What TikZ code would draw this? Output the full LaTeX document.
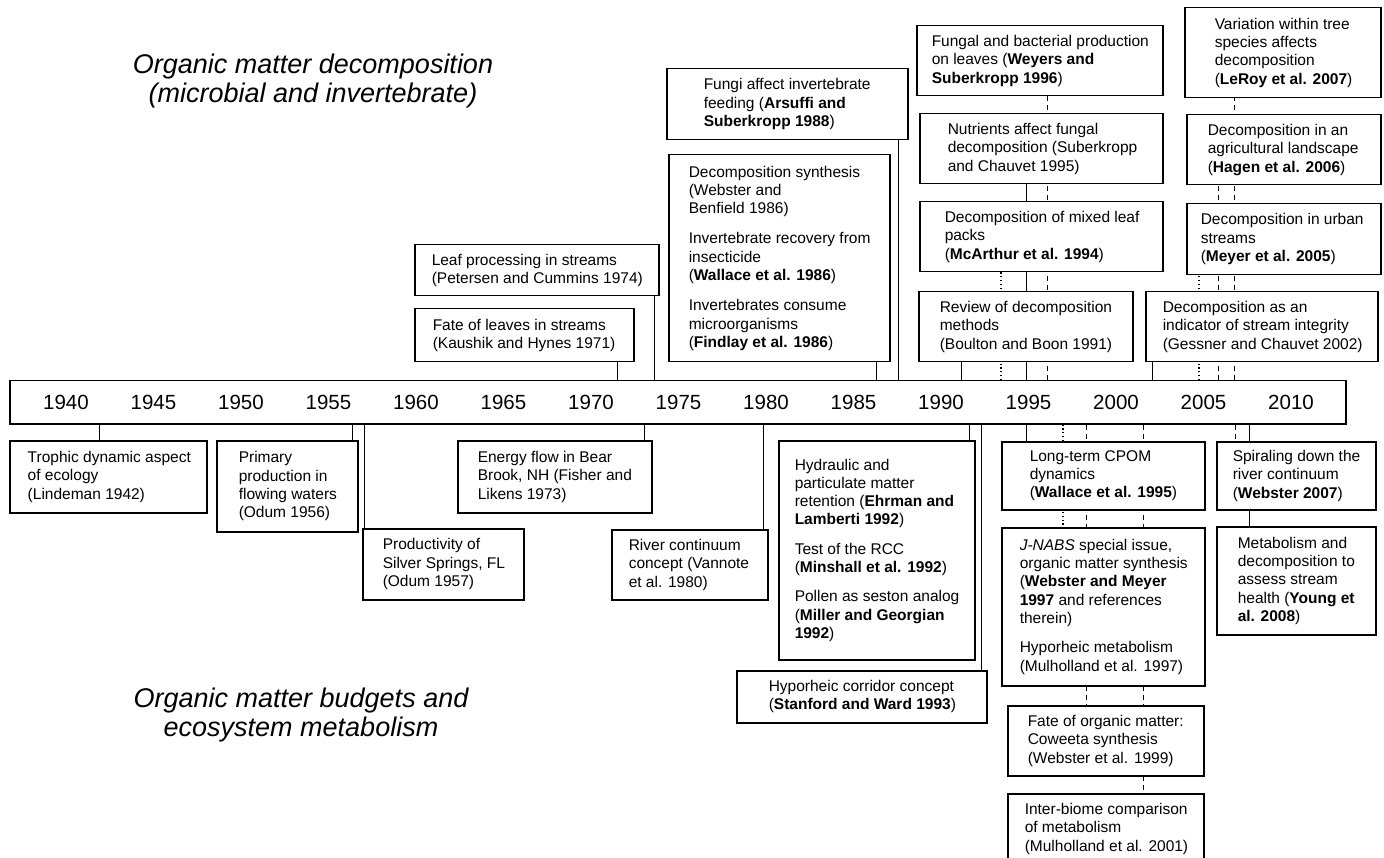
\documentclass[tikz,border=0pt]{standalone}
\usepackage{fontspec}
\setmainfont{Liberation Sans}
\usetikzlibrary{backgrounds}

\begin{document}
\begin{tikzpicture}[
            x = 1pt, y = -1pt, % one unit is one pixel, y runs down
            line width = 1.5pt, % line style
            every node/.style = {font = \fontsize{15.5}{18.3}\selectfont}
        ]

        \tikzstyle{event}=[
            draw = black,
            fill = white,
            anchor = north west,
            inner xsep = 2pt,
            inner ysep = 0pt,
            align = flush left
        ]
        \tikzstyle{year}=[font = \fontsize{20.5}{24}\selectfont]
        \tikzstyle{heading}=[font = \fontsize{27}{29}\selectfont\itshape, align = center]
        \tikzstyle{dotline}=[line width = 1.2pt, dash pattern = on 1.2pt off 2.6pt]
        \tikzstyle{dashline}=[dash pattern = on 5pt off 4pt]
        \tikzset{lpad/.style = {execute at begin node = {\leftskip=#1pt}}}

        \useasboundingbox (0,0) rectangle (1384,858);

        \node[heading] (decomp) at (313,81) {Organic matter decomposition\\(microbial and invertebrate)};
        \node[heading] (budget) at (301,715) {Organic matter budgets and\\ecosystem metabolism};

        % time axis
        \node[draw, fill = white, anchor = north west, inner sep = 0pt,
              minimum width = 1336, minimum height = 43] (axis) at (9,380) {};
        \foreach \yr [count = \i from 0] in {1940,1945,...,2010}
            \node[year] (y\yr) at (66+87.5*\i, 402) {\yr};

        % above the axis
        \node[event, text width = 240, minimum height = 51, lpad = 15] (petersen) at (414,244)
            {Leaf processing in streams\\(Petersen and Cummins 1974)};
        \node[event, text width = 215, minimum height = 53, lpad = 16] (kaushik) at (414,308)
            {Fate of leaves in streams\\(Kaushik and Hynes 1971)};
        \node[event, text width = 237, minimum height = 71, lpad = 35] (arsuffi) at (666,68)
            {Fungi affect invertebrate\\feeding (\textbf{Arsuffi and}\\\textbf{Suberkropp 1988})};
        \node[event, text width = 217, minimum height = 207, lpad = 18] (synthesis) at (668,154)
            {Decomposition synthesis\\(Webster and\\Benfield 1986)\\[12pt]
             Invertebrate recovery from\\insecticide\\(\textbf{Wallace et al. 1986})\\[12pt]
             Invertebrates consume\\microorganisms\\(\textbf{Findlay et al. 1986})};
        \node[event, text width = 242, minimum height = 70, lpad = 13] (weyers) at (916,25)
            {Fungal and bacterial production\\on leaves (\textbf{Weyers and}\\\textbf{Suberkropp 1996})};
        \node[event, text width = 239, minimum height = 70, lpad = 26] (nutrients) at (919,113)
            {Nutrients affect fungal\\decomposition (Suberkropp\\and Chauvet 1995)};
        \node[event, text width = 239, minimum height = 70, lpad = 23] (mcarthur) at (919,201)
            {Decomposition of mixed leaf\\packs\\(\textbf{McArthur et al. 1994})};
        \node[event, text width = 210, minimum height = 70, lpad = 19] (boulton) at (918,291)
            {Review of decomposition\\methods\\(Boulton and Boon 1991)};
        \node[event, text width = 192, minimum height = 90, lpad = 28] (leroy) at (1184,7)
            {Variation within tree\\species affects\\decomposition\\(\textbf{LeRoy et al. 2007})};
        \node[event, text width = 190, minimum height = 70, lpad = 19] (hagen) at (1186,114)
            {Decomposition in an\\agricultural landscape\\(\textbf{Hagen et al. 2006})};
        \node[event, text width = 190, minimum height = 71, lpad = 12] (meyer) at (1186,203)
            {Decomposition in urban\\streams\\(\textbf{Meyer et al. 2005})};
        \node[event, text width = 228, minimum height = 70, lpad = 15] (gessner) at (1145,291)
            {Decomposition as an\\indicator of stream integrity\\(Gessner and Chauvet 2002)};

        % below the axis
        \node[event, text width = 193, minimum height = 72, lpad = 16] (lindeman) at (9,440)
            {Trophic dynamic aspect\\of ecology\\(Lindeman 1942)};
        \node[event, text width = 137, minimum height = 91, lpad = 20] (odum56) at (216,440)
            {Primary\\production in\\flowing waters\\(Odum 1956)};
        \node[event, text width = 157, minimum height = 71, lpad = 18] (odum57) at (362,528)
            {Productivity of\\Silver Springs, FL\\(Odum 1957)};
        \node[event, text width = 190, minimum height = 72, lpad = 18] (fisher) at (457,440)
            {Energy flow in Bear\\Brook, NH (Fisher and\\Likens 1973)};
        \node[event, text width = 152, minimum height = 70, lpad = 15] (vannote) at (611,529)
            {River continuum\\concept (Vannote\\et al. 1980)};
        \node[event, text width = 192, minimum height = 219, lpad = 14] (ehrman) at (778,440)
            {Hydraulic and\\particulate matter\\retention (\textbf{Ehrman and}\\\textbf{Lamberti 1992})\\[11pt]
             Test of the RCC\\(\textbf{Minshall et al. 1992})\\[11pt]
             Pollen as seston analog\\(\textbf{Miller and Georgian}\\\textbf{1992})};
        \node[event, text width = 246, minimum height = 52, lpad = 30] (stanford) at (736,670)
            {Hyporheic corridor concept\\(\textbf{Stanford and Ward 1993})};
        \node[event, text width = 199, minimum height = 68, lpad = 26] (wallace) at (1001,441)
            {Long-term CPOM\\dynamics\\(\textbf{Wallace et al. 1995})};
        \node[event, text width = 199, minimum height = 158, lpad = 16] (jnabs) at (1001,527)
            {\textit{J-NABS} special issue,\\organic matter synthesis\\(\textbf{Webster and Meyer}\\\textbf{1997} and references\\therein)\\[11pt]
             Hyporheic metabolism\\(Mulholland et al. 1997)};
        \node[event, text width = 192, minimum height = 70, lpad = 18] (coweeta) at (1007,705)
            {Fate of organic matter:\\Coweeta synthesis\\(Webster et al. 1999)};
        \node[event, text width = 192, minimum height = 70, lpad = 15] (biome) at (1007,793)
            {Inter-biome comparison\\of metabolism\\(Mulholland et al. 2001)};
        \node[event, text width = 155, minimum height = 68, lpad = 14] (spiral) at (1216,441)
            {Spiraling down the\\river continuum\\(\textbf{Webster 2007})};
        \node[event, text width = 155, minimum height = 108, lpad = 19] (young) at (1216,526)
            {Metabolism and\\decomposition to\\assess stream\\health (\textbf{Young et}\\\textbf{al. 2008})};

        % ties to the axis, behind the boxes
        \begin{pgfonlayer}{background}
            \foreach \n/\x in {kaushik/617, petersen/654, synthesis/876, arsuffi/898,
                               boulton/961, nutrients/1026, gessner/1152}
                {\coordinate (x\n) at (\x,0);
                 \draw (x\n |- axis.north) -- (x\n |- \n.south);}
            \foreach \n/\x in {mcarthur/1001, meyer/1199}
                {\coordinate (x\n) at (\x,0);
                 \draw[dotline] (x\n |- axis.north) -- (x\n |- \n.south);}
            \foreach \n/\x in {weyers/1047, hagen/1218, leroy/1234}
                {\coordinate (x\n) at (\x,0);
                 \draw[dashline] (x\n |- axis.north) -- (x\n |- \n.south);}
            \foreach \n/\x in {lindeman/99, odum56/352, odum57/364, fisher/644, vannote/763,
                               ehrman/969, stanford/981, wallace/1026, young/1249}
                {\coordinate (x\n) at (\x,0);
                 \draw (x\n |- axis.south) -- (x\n |- \n.north);}
            \foreach \n/\x in {jnabs/1063}
                {\coordinate (x\n) at (\x,0);
                 \draw[dotline] (x\n |- axis.south) -- (x\n |- \n.north);}
            \foreach \n/\x in {coweeta/1086, biome/1143, spiral/1235}
                {\coordinate (x\n) at (\x,0);
                 \draw[dashline] (x\n |- axis.south) -- (x\n |- \n.north);}
        \end{pgfonlayer}

  \end{tikzpicture}
\end{document}
